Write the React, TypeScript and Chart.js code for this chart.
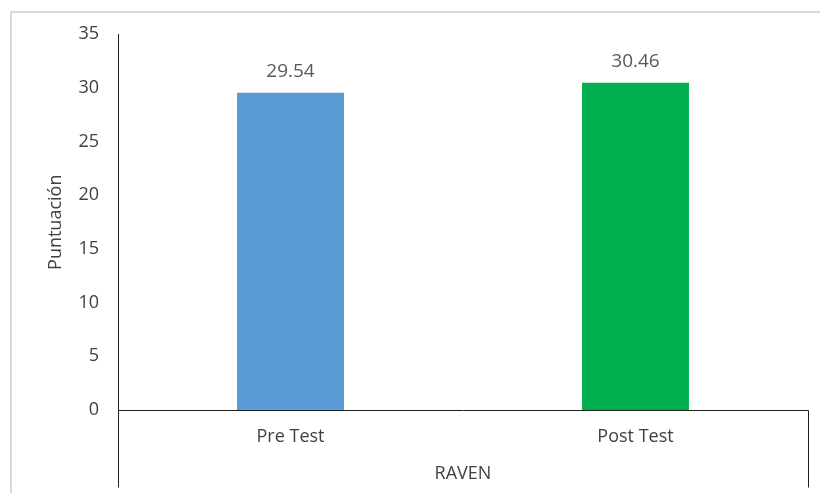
import { useEffect, useRef } from "react";
import { Chart, registerables } from "chart.js";

Chart.register(...registerables);

const categories = ["Pre Test", "Post Test"];
const scores = [29.54, 30.46];
const barColors = ["#5B9BD5", "#00B050"];
const yMax = 35;
const yStep = 5;
const groupLabel = "RAVEN";
const yTitle = "Puntuación";

const FONT = "'Open Sans', sans-serif";

// Frame, axis lines, value labels and the outer group label
const decorations = {
  id: "decorations",
  afterDraw(chart: any) {
    const { ctx, chartArea } = chart;
    const yScale = chart.scales.y;
    const zeroY = Math.round(yScale.getPixelForValue(0)) + 0.5;
    const left = Math.round(chartArea.left) + 0.5;
    const right = Math.round(chartArea.right) + 0.5;
    const top = Math.round(chartArea.top);
    const groupBottom = zeroY + 77;

    ctx.save();
    // chart frame
    ctx.strokeStyle = "#d9d9d9";
    ctx.lineWidth = 2;
    ctx.beginPath();
    ctx.moveTo(11, 500);
    ctx.lineTo(11, 12);
    ctx.lineTo(830, 12);
    ctx.stroke();

    // axes and category group bracket
    ctx.strokeStyle = "#1f1f1f";
    ctx.lineWidth = 1;
    ctx.beginPath();
    ctx.moveTo(left, top);
    ctx.lineTo(left, groupBottom);
    ctx.moveTo(left, zeroY);
    ctx.lineTo(right, zeroY);
    ctx.lineTo(right, groupBottom);
    ctx.stroke();

    // value labels above bars
    ctx.fillStyle = "#595959";
    ctx.font = `19px ${FONT}`;
    ctx.textAlign = "center";
    ctx.textBaseline = "middle";
    const meta = chart.getDatasetMeta(0);
    meta.data.forEach((bar: any, i: number) => {
      ctx.fillText(scores[i].toFixed(2), bar.x, bar.y - 21);
    });

    // group label under the categories
    ctx.fillStyle = "#404040";
    ctx.font = `18px ${FONT}`;
    ctx.fillText(groupLabel, (chartArea.left + chartArea.right) / 2, zeroY + 63);

    // y axis title
    ctx.translate(56, (chartArea.top + zeroY) / 2);
    ctx.rotate(-Math.PI / 2);
    ctx.fillText(yTitle, 0, 0);
    ctx.restore();
  },
};

export default function App() {
  const canvasRef = useRef<HTMLCanvasElement | null>(null);

  useEffect(() => {
    if (!canvasRef.current) return;
    const chart = new Chart(canvasRef.current, {
      type: "bar",
      data: {
        labels: categories,
        datasets: [
          {
            data: scores,
            backgroundColor: barColors,
            borderWidth: 0,
            barPercentage: 0.31,
            categoryPercentage: 1,
          },
        ],
      },
      options: {
        responsive: false,
        animation: false,
        layout: { padding: { top: 34, right: 12, left: 0, bottom: 0 } },
        plugins: {
          legend: { display: false },
          tooltip: { enabled: false },
          title: { display: false },
        },
        scales: {
          x: {
            grid: { display: false },
            border: { display: false },
            ticks: {
              color: "#404040",
              font: { family: FONT, size: 18 },
              padding: 8,
            },
            afterFit(scale: any) {
              scale.height = 83;
            },
          },
          y: {
            min: 0,
            max: yMax,
            grid: { display: false, drawTicks: false },
            border: { display: false },
            ticks: {
              stepSize: yStep,
              color: "#404040",
              font: { family: FONT, size: 18 },
              padding: 19,
            },
            afterFit(scale: any) {
              scale.width = 118;
            },
          },
        },
      },
      plugins: [decorations],
    });
    return () => chart.destroy();
  }, []);

  return (
    <div style={{ position: "absolute", left: 0, top: 0, width: 820, height: 493, background: "#fff" }}>
      <canvas ref={canvasRef} width={820} height={493} />
    </div>
  );
}
